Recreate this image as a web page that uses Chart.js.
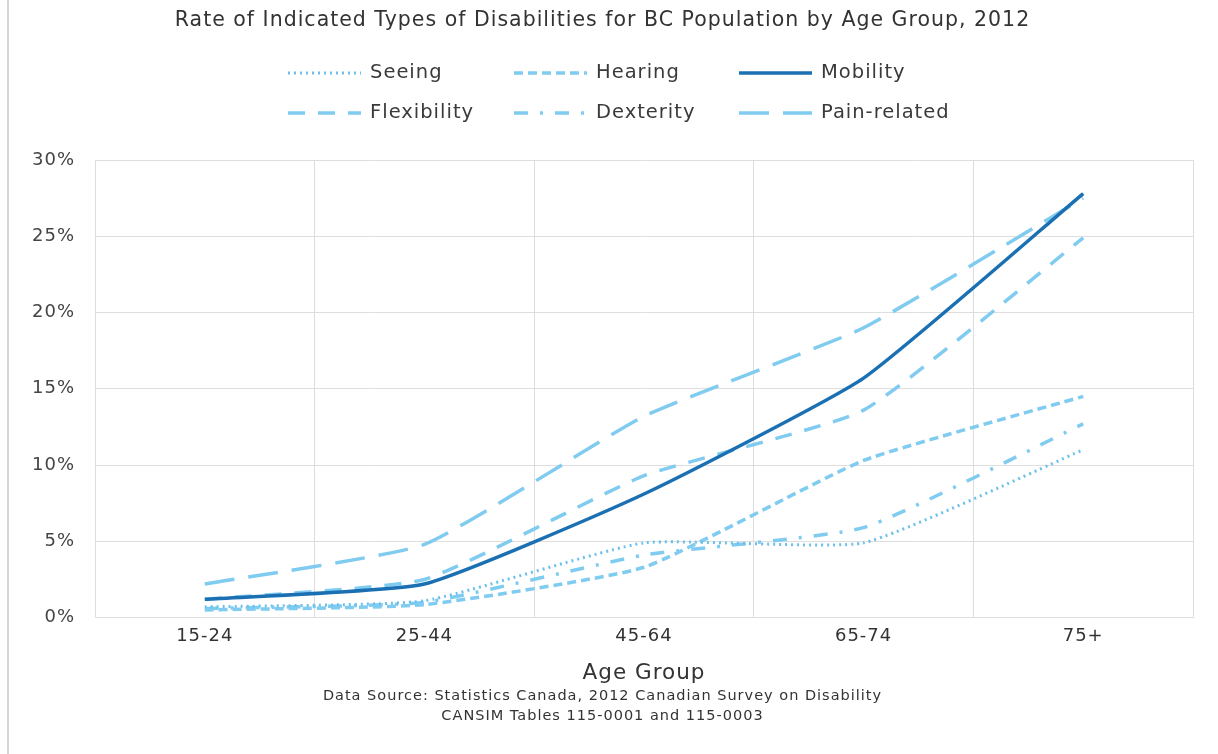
<!DOCTYPE html>
<html><head><meta charset="utf-8">
<script src="https://cdn.jsdelivr.net/npm/chart.js@4/dist/chart.umd.min.js"></script>
<style>
html,body{margin:0;padding:0;background:#fff;}
#wrap{position:relative;width:1218px;height:754px;overflow:hidden;}
#edge{position:absolute;left:7px;top:0;width:2px;height:754px;background:#d6d6d6;}
canvas{position:absolute;left:0;top:0;}
</style></head><body>
<div id="wrap"><div id="edge"></div><canvas id="c" width="1218" height="754"></canvas></div>
<script>
const categories = ['15-24', '25-44', '45-64', '65-74', '75+'];
const seeing      = [0.7, 1.1, 4.9, 4.9, 11.0];
const hearing     = [0.5, 0.85, 3.3, 10.3, 14.5];
const mobility    = [1.2, 2.2, 8.1, 15.7, 27.8];
const flexibility = [1.2, 2.5, 9.3, 13.6, 24.9];
const dexterity   = [0.6, 1.0, 4.1, 5.9, 12.7];
const painRelated = [2.2, 4.8, 13.2, 19.0, 27.5];
const yTickValues = [0, 5, 10, 15, 20, 25, 30];

const DARK = '#1a70b3';
const LIGHT = '#80cbf0';
const FONT = "'DejaVu Sans', 'Open Sans', sans-serif";
const SPACING = '1px';

const datasets = [
  {label: 'Seeing', data: seeing, borderColor: '#6cc0ec', borderWidth: 3, borderDash: [2, 4], borderCapStyle: 'butt'},
  {label: 'Hearing', data: hearing, borderColor: LIGHT, borderWidth: 3.5, borderDash: [9, 5]},
  {label: 'Mobility', data: mobility, borderColor: DARK, borderWidth: 3.5, borderDash: []},
  {label: 'Flexibility', data: flexibility, borderColor: LIGHT, borderWidth: 3.5, borderDash: [17, 13]},
  {label: 'Dexterity', data: dexterity, borderColor: LIGHT, borderWidth: 3.5, borderDash: [14, 12, 3, 12]},
  {label: 'Pain-related', data: painRelated, borderColor: LIGHT, borderWidth: 3.5, borderDash: [30, 14]}
].map(d => Object.assign({pointRadius: 0, pointHoverRadius: 0, fill: false, tension: 0.15}, d));

// wide letter spacing for all canvas text (reference uses a wide geometric face)
const spacingPlugin = {
  id: 'spacing',
  beforeLayout(chart) { chart.ctx.letterSpacing = SPACING; },
  beforeDraw(chart) { chart.ctx.letterSpacing = SPACING; }
};

// Grid-style legend (3 columns x 2 rows) drawn on the canvas
const gridLegend = {
  id: 'gridLegend',
  afterDraw(chart) {
    const ctx = chart.ctx;
    const cols = [288, 514, 739];
    const rows = [73, 113];
    const sampleW = 73, gap = 9;
    ctx.save();
    ctx.letterSpacing = SPACING;
    ctx.font = "19.5px " + FONT;
    ctx.textBaseline = 'middle';
    ctx.textAlign = 'left';
    chart.data.datasets.forEach((ds, i) => {
      const x = cols[i % 3], y = rows[Math.floor(i / 3)];
      ctx.beginPath();
      ctx.strokeStyle = ds.borderColor;
      ctx.lineWidth = ds.borderWidth;
      ctx.setLineDash(ds.borderDash || []);
      ctx.moveTo(x, y);
      ctx.lineTo(x + sampleW, y);
      ctx.stroke();
      ctx.setLineDash([]);
      ctx.fillStyle = '#3a3a3a';
      ctx.fillText(ds.label, x + sampleW + gap, y);
    });
    ctx.restore();
  }
};

new Chart(document.getElementById('c'), {
  type: 'line',
  data: {labels: categories, datasets},
  options: {
    responsive: false,
    animation: false,
    events: [],
    layout: {padding: {left: 12, right: 25, top: 0, bottom: 28}},
    plugins: {
      legend: {display: false},
      tooltip: {enabled: false},
      title: {
        display: true,
        text: 'Rate of Indicated Types of Disabilities for BC Population by Age Group, 2012',
        color: '#333',
        font: {family: FONT, size: 20.5, weight: 'normal'},
        padding: {top: 8, bottom: 127.4}
      },
      subtitle: {
        display: true,
        position: 'bottom',
        text: ['Data Source: Statistics Canada, 2012 Canadian Survey on Disability', 'CANSIM Tables 115-0001 and 115-0003'],
        color: '#333',
        font: {family: FONT, size: 14.5, weight: 'normal', lineHeight: 1.38},
        padding: {top: 0, bottom: 0}
      }
    },
    scales: {
      x: {
        offset: true,
        grid: {offset: true, color: '#dedede', drawTicks: false, lineWidth: 1},
        border: {color: '#dedede'},
        ticks: {color: '#333', font: {family: FONT, size: 18}, padding: 8},
        title: {display: true, text: 'Age Group', color: '#333', font: {family: FONT, size: 21.5}, padding: {top: 5, bottom: 0}}
      },
      y: {
        min: 0, max: 30,
        afterBuildTicks(scale) { scale.ticks = yTickValues.map(v => ({value: v})); },
        grid: {color: '#dedede', drawTicks: false, lineWidth: 1},
        border: {color: '#dedede'},
        ticks: {color: '#444', font: {family: FONT, size: 18}, padding: 20, callback: v => v + '%'}
      }
    }
  },
  plugins: [spacingPlugin, gridLegend]
});
</script>
</body></html>
